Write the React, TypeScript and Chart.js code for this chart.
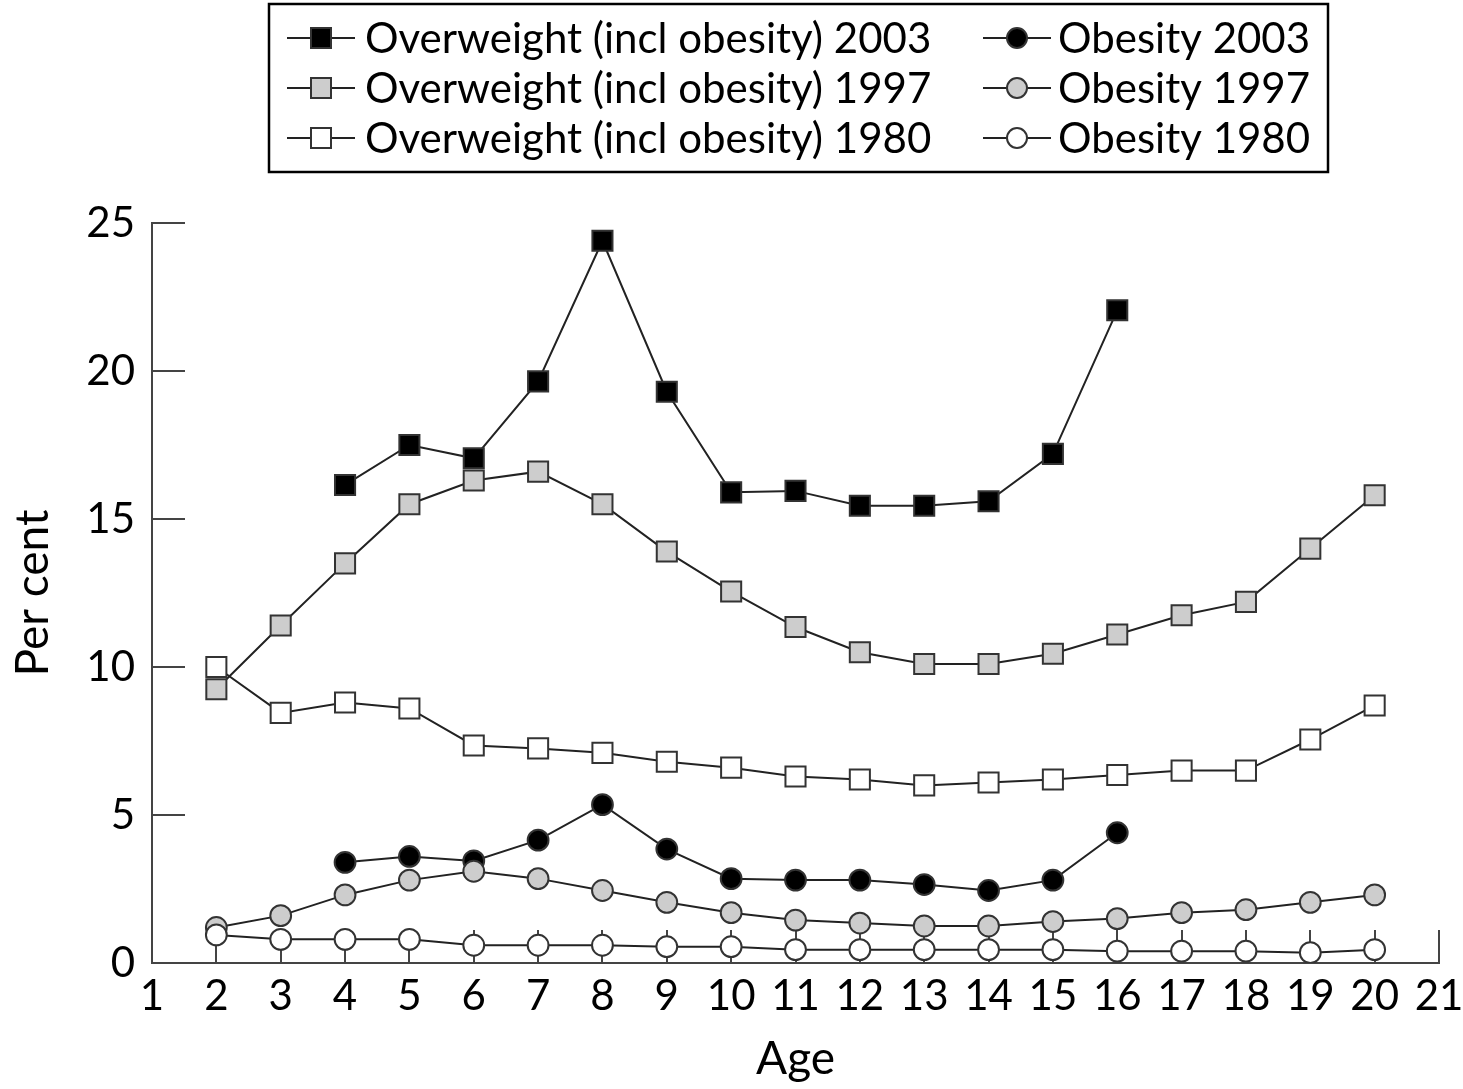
import React, { useEffect, useRef } from 'react';
import { Chart, registerables } from 'chart.js';

Chart.register(...registerables);

// ---- Data ----
const ages = [2, 3, 4, 5, 6, 7, 8, 9, 10, 11, 12, 13, 14, 15, 16, 17, 18, 19, 20];
const overweight2003 = [null, null, 16.15, 17.5, 17.05, 19.65, 24.4, 19.3, 15.9, 15.95, 15.45, 15.45, 15.6, 17.2, 22.05, null, null, null, null];
const overweight1997 = [9.25, 11.4, 13.5, 15.5, 16.3, 16.6, 15.5, 13.9, 12.55, 11.35, 10.5, 10.1, 10.1, 10.45, 11.1, 11.75, 12.2, 14.0, 15.8];
const overweight1980 = [10.0, 8.45, 8.8, 8.6, 7.35, 7.25, 7.1, 6.8, 6.6, 6.3, 6.2, 6.0, 6.1, 6.2, 6.35, 6.5, 6.5, 7.55, 8.7];
const obesity2003 = [null, null, 3.4, 3.6, 3.45, 4.15, 5.35, 3.85, 2.85, 2.8, 2.8, 2.65, 2.45, 2.8, 4.4, null, null, null, null];
const obesity1997 = [1.2, 1.6, 2.3, 2.8, 3.1, 2.85, 2.45, 2.05, 1.7, 1.45, 1.35, 1.25, 1.25, 1.4, 1.5, 1.7, 1.8, 2.05, 2.3];
const obesity1980 = [0.95, 0.8, 0.8, 0.8, 0.6, 0.6, 0.6, 0.55, 0.55, 0.45, 0.45, 0.45, 0.45, 0.45, 0.4, 0.4, 0.4, 0.35, 0.45];

const seriesLabels = [
  'Overweight (incl obesity) 2003',
  'Obesity 2003',
  'Overweight (incl obesity) 1997',
  'Obesity 1997',
  'Overweight (incl obesity) 1980',
  'Obesity 1980',
];
const xTitle = 'Age';
const yTitle = 'Per cent';

const FONT = 'Lato, "Open Sans", sans-serif';
const LINE = '#222';
const EDGE = '#333';
const GREY = '#cdcdcd';

function toPoints(vals: (number | null)[]) {
  const out: { x: number; y: number }[] = [];
  vals.forEach((v, i) => {
    if (v !== null) out.push({ x: ages[i], y: v });
  });
  return out;
}

const legendPlugin = {
  id: 'boxLegend',
  afterDraw(chart: any) {
    const ctx = chart.ctx as CanvasRenderingContext2D;
    ctx.save();
    ctx.strokeStyle = '#000';
    ctx.lineWidth = 2.5;
    ctx.strokeRect(269, 4, 1059, 168);
    const colLine = [287, 983];
    const colText = [365, 1058];
    const rowY = [38, 88, 138];
    chart.data.datasets.forEach((ds: any, i: number) => {
      const col = i % 2;
      const row = Math.floor(i / 2);
      const y = rowY[row];
      const x0 = colLine[col];
      const x1 = x0 + 68;
      const cx = (x0 + x1) / 2;
      ctx.strokeStyle = LINE;
      ctx.lineWidth = 2;
      ctx.beginPath();
      ctx.moveTo(x0, y);
      ctx.lineTo(x1, y);
      ctx.stroke();
      ctx.fillStyle = ds.pointBackgroundColor;
      ctx.strokeStyle = EDGE;
      ctx.lineWidth = 2;
      ctx.beginPath();
      if (ds.pointStyle === 'rect') {
        ctx.rect(cx - 10, y - 10, 20, 20);
      } else {
        ctx.arc(cx, y, 10, 0, Math.PI * 2);
      }
      ctx.fill();
      ctx.stroke();
      ctx.fillStyle = '#000';
      ctx.font = `42px ${FONT}`;
      ctx.textBaseline = 'middle';
      ctx.textAlign = 'left';
      ctx.fillText(ds.label, colText[col], y + 1);
    });
    ctx.restore();
  },
};

const innerTicksPlugin = {
  id: 'innerTicks',
  beforeDatasetsDraw(chart: any) {
    const ctx = chart.ctx as CanvasRenderingContext2D;
    const xs = chart.scales.x;
    const ys = chart.scales.y;
    const area = chart.chartArea;
    ctx.save();
    ctx.strokeStyle = '#444';
    ctx.lineWidth = 2;
    ctx.beginPath();
    xs.ticks.forEach((t: any) => {
      if (t.value === xs.min) return;
      const px = Math.round(xs.getPixelForValue(t.value));
      ctx.moveTo(px, area.bottom);
      ctx.lineTo(px, area.bottom - 33);
    });
    ys.ticks.forEach((t: any) => {
      if (t.value === ys.min) return;
      const py = Math.round(ys.getPixelForValue(t.value));
      ctx.moveTo(area.left, py);
      ctx.lineTo(area.left + 33, py);
    });
    ctx.stroke();
    ctx.restore();
  },
};

function makeDataset(label: string, vals: (number | null)[], style: 'rect' | 'circle', fill: string, order: number) {
  return {
    label,
    data: toPoints(vals),
    borderColor: LINE,
    borderWidth: 2,
    pointStyle: style,
    pointRadius: style === 'rect' ? 14.2 : 10.4,
    pointHoverRadius: style === 'rect' ? 14.2 : 10.4,
    pointBackgroundColor: fill,
    pointBorderColor: EDGE,
    pointBorderWidth: 2,
    fill: false,
    tension: 0,
    order,
  };
}

export default function App() {
  const ref = useRef<HTMLCanvasElement | null>(null);
  useEffect(() => {
    document.body.style.margin = '0';
    const canvas = ref.current;
    if (!canvas) return;
    const chart = new Chart(canvas, {
      type: 'line',
      data: {
        datasets: [
          makeDataset(seriesLabels[0], overweight2003, 'rect', '#000', 3),
          makeDataset(seriesLabels[1], obesity2003, 'circle', '#000', 3),
          makeDataset(seriesLabels[2], overweight1997, 'rect', GREY, 2),
          makeDataset(seriesLabels[3], obesity1997, 'circle', GREY, 2),
          makeDataset(seriesLabels[4], overweight1980, 'rect', '#fff', 1),
          makeDataset(seriesLabels[5], obesity1980, 'circle', '#fff', 1),
        ] as any,
      },
      options: {
        responsive: false,
        animation: false,
        devicePixelRatio: 1,
        layout: { padding: { top: 223, right: 24, left: 0, bottom: 0 } },
        plugins: {
          legend: { display: false },
          tooltip: { enabled: false },
        },
        scales: {
          x: {
            type: 'linear',
            min: 1,
            max: 21,
            afterFit(scale: any) {
              scale.height = 126;
              scale.paddingLeft = 0;
              scale.paddingRight = 0;
            },
            grid: { display: false, drawTicks: false },
            border: { display: true, color: '#444', width: 2 },
            ticks: {
              stepSize: 1,
              autoSkip: false,
              maxRotation: 0,
              padding: 8,
              color: '#000',
              font: { family: FONT, size: 42 },
            },
            title: {
              display: true,
              text: xTitle,
              color: '#000',
              font: { family: FONT, size: 46 },
              padding: { top: 0, bottom: 2 },
            },
          },
          y: {
            type: 'linear',
            min: 0,
            max: 25,
            afterFit(scale: any) {
              scale.width = 152;
              scale.paddingTop = 0;
              scale.paddingBottom = 0;
            },
            grid: { display: false, drawTicks: false },
            border: { display: true, color: '#444', width: 2 },
            ticks: {
              stepSize: 5,
              padding: 17,
              color: '#000',
              font: { family: FONT, size: 42 },
            },
            title: {
              display: true,
              text: yTitle,
              color: '#000',
              font: { family: FONT, size: 46 },
              padding: { top: 6, bottom: 0 },
            },
          },
        },
      },
      plugins: [innerTicksPlugin, legendPlugin],
    });
    return () => chart.destroy();
  }, []);
  return <canvas ref={ref} width={1463} height={1089} style={{ display: 'block' }} />;
}
